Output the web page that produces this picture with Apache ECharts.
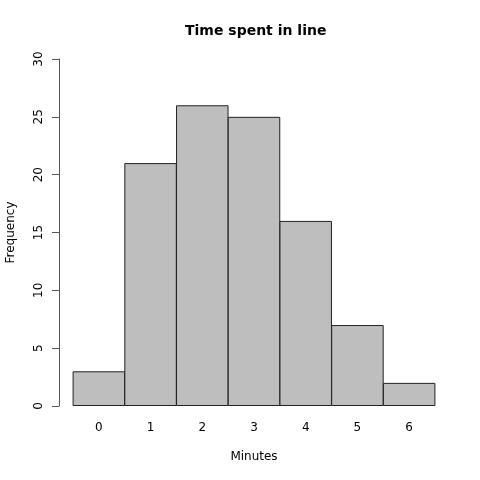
<!DOCTYPE html>
<html><head><meta charset="utf-8">
<script src="https://cdn.jsdelivr.net/npm/echarts@6/dist/echarts.min.js"></script>
<style>html,body{margin:0;padding:0;background:#fff}#c{width:480px;height:480px}</style>
</head><body><div id="c"></div>
<script>
const categories = ['0','1','2','3','4','5','6'];
const frequencies = [3, 21, 26, 25, 16, 7, 2];
const yTicks = [0, 5, 10, 15, 20, 25, 30];

const chart = echarts.init(document.getElementById('c'), null, {renderer:'canvas'});
const font = 'DejaVu Sans';
chart.setOption({
  animation: false,
  backgroundColor: '#fff',
  title: {
    text: 'Time spent in line', left: 180, top: 19,
    textStyle: {fontFamily: font, fontSize: 14, fontWeight: 'bold', color: '#000'}
  },
  grid: {left: 73, right: 45, top: 59, bottom: 74, containLabel: false, outerBoundsMode: 'none'},
  xAxis: {
    type: 'category', data: categories,
    name: 'Minutes', nameLocation: 'middle', nameGap: 45,
    nameTextStyle: {fontFamily: font, fontSize: 12, color: '#000'},
    axisLine: {show: false}, axisTick: {show: false},
    axisLabel: {fontFamily: font, fontSize: 12, color: '#000', margin: 16}
  },
  yAxis: {
    type: 'value', min: yTicks[0], max: yTicks[yTicks.length-1], interval: 5,
    offset: 14,
    name: 'Frequency', nameLocation: 'middle', nameGap: 42,
    nameTextStyle: {fontFamily: font, fontSize: 12, color: '#000'},
    axisLine: {show: true, lineStyle: {color: '#555', width: 1}},
    axisTick: {show: true, length: 7, lineStyle: {color: '#555', width: 1}},
    axisLabel: {fontFamily: font, fontSize: 12, color: '#000', rotate: 90, margin: 14},
    splitLine: {show: false}
  },
  series: [{
    type: 'bar', data: frequencies, barWidth: 52.5,
    itemStyle: {color: '#BEBEBE', borderColor: '#222', borderWidth: 1}
  }]
});
</script></body></html>
